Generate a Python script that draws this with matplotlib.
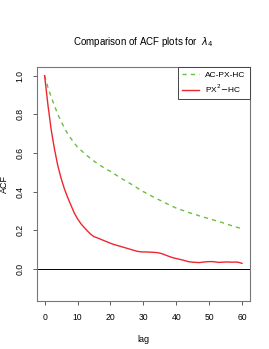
import matplotlib
matplotlib.use("Agg")
import matplotlib.pyplot as plt

plt.rcParams['font.family'] = ['Liberation Sans', 'DejaVu Sans']

lags = list(range(61))
acf_ac_px_hc = [1.0, 0.94, 0.89, 0.845, 0.80, 0.765, 0.73, 0.70, 0.675, 0.652,
                0.63, 0.615, 0.60, 0.585, 0.571, 0.558, 0.546, 0.535, 0.524, 0.514,
                0.505, 0.494, 0.483, 0.472, 0.462, 0.452, 0.442, 0.432, 0.421, 0.41,
                0.40, 0.391, 0.382, 0.373, 0.364, 0.356, 0.348, 0.339, 0.331, 0.323,
                0.315, 0.309, 0.303, 0.297, 0.291, 0.286, 0.281, 0.275, 0.27, 0.265,
                0.26, 0.255, 0.25, 0.245, 0.24, 0.234, 0.229, 0.223, 0.218, 0.213,
                0.207]
acf_px2_hc = [1.0, 0.85, 0.72, 0.62, 0.535, 0.47, 0.415, 0.37, 0.33, 0.29,
              0.26, 0.235, 0.215, 0.197, 0.18, 0.167, 0.161, 0.154, 0.147, 0.14,
              0.133, 0.127, 0.122, 0.117, 0.112, 0.107, 0.102, 0.097, 0.092, 0.089,
              0.088, 0.088, 0.087, 0.086, 0.085, 0.082, 0.077, 0.07, 0.064, 0.058,
              0.054, 0.05, 0.046, 0.041, 0.037, 0.035, 0.034, 0.033, 0.035, 0.037,
              0.038, 0.038, 0.036, 0.034, 0.035, 0.036, 0.036, 0.035, 0.036, 0.034,
              0.029]
x_ticks = [0, 10, 20, 30, 40, 50, 60]
y_ticks = [0.0, 0.2, 0.4, 0.6, 0.8, 1.0]

fig = plt.figure(figsize=(2.69, 3.49), dpi=100)
ax = fig.add_axes([0.1365, 0.138, 0.7925, 0.67])

ax.plot(lags, acf_ac_px_hc, color='#6abf40', lw=1.0, ls=(0, (3, 3)), label='AC-PX-HC')
ax.plot(lags, acf_px2_hc, color='#f0262e', lw=1.0, label=r'PX$^2$$-$HC')
ax.axhline(0, color='black', lw=0.7)

ax.set_xlim(-2.4, 62.4)
ax.set_ylim(-0.165, 1.045)
ax.set_xticks(x_ticks)
ax.set_yticks(y_ticks)
ax.set_yticklabels([f"{v:.1f}" for v in y_ticks], rotation=90, va='center')
ax.tick_params(labelsize=6.2, length=3, width=0.6, color='#444444', pad=6)

for s in ax.spines.values():
    s.set_color('#777777')
    s.set_linewidth(0.8)

ax.set_title(r'Comparison of ACF plots for  $\lambda_4$', fontsize=7, pad=16)
ax.set_xlabel('lag', fontsize=6.5)
ax.set_ylabel('ACF', fontsize=6.5)
ax.xaxis.set_label_coords(0.5, -0.148)
ax.yaxis.set_label_coords(-0.132, 0.5)

leg = ax.legend(loc='upper right', fontsize=6, fancybox=False, framealpha=1,
                edgecolor='#444444', borderaxespad=0, handlelength=2.0,
                borderpad=0.5, labelspacing=0.4)
leg.get_frame().set_linewidth(0.7)

fig.savefig('out.png', dpi=100)
